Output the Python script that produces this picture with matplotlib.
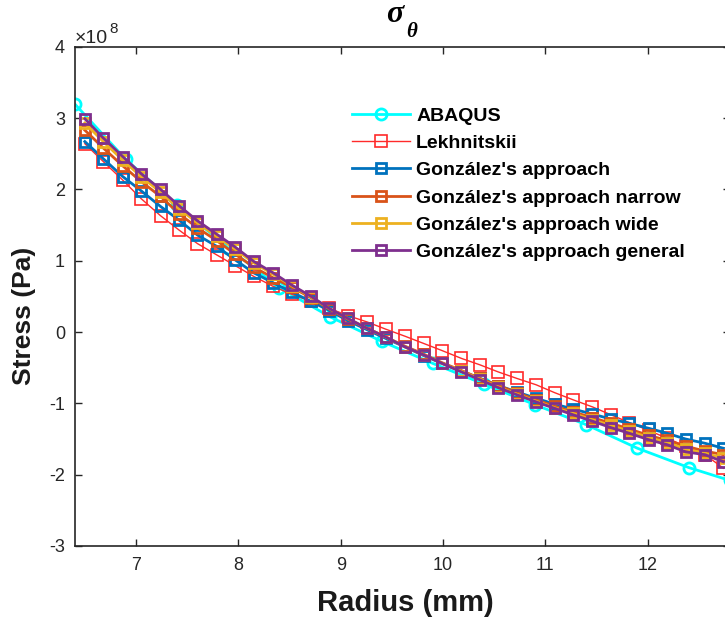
import numpy as np
import matplotlib
matplotlib.use("Agg")
import matplotlib.pyplot as plt

plt.rcParams['font.family'] = ['Liberation Sans', 'DejaVu Sans']

# Radial positions (mm)
r_abaqus = [6.4, 6.9, 7.4, 7.9, 8.4, 8.9, 9.4, 9.9, 10.4, 10.9, 11.4, 11.9, 12.4, 12.8]
r_model = [6.50, 6.68, 6.87, 7.05, 7.24, 7.42, 7.60, 7.79, 7.97, 8.15, 8.34,
           8.52, 8.71, 8.89, 9.07, 9.26, 9.44, 9.63, 9.81, 9.99, 10.18, 10.36,
           10.54, 10.72, 10.91, 11.09, 11.27, 11.46, 11.64, 11.82, 12.01, 12.19,
           12.37, 12.56, 12.74]

# Hoop stress, units of 1e8 Pa
abaqus = [3.20, 2.42, 1.78, 1.18, 0.62, 0.21, -0.13, -0.44, -0.73, -1.02,
          -1.30, -1.63, -1.90, -2.08]
lekhnitskii = [2.64, 2.39, 2.13, 1.87, 1.63, 1.43, 1.24, 1.08, 0.93, 0.78, 0.64,
               0.53, 0.43, 0.33, 0.23, 0.14, 0.04, -0.06, -0.16, -0.26, -0.37,
               -0.46, -0.56, -0.65, -0.74, -0.85, -0.95, -1.05, -1.16, -1.27,
               -1.38, -1.49, -1.60, -1.72, -1.91]
gonzalez = [2.67, 2.43, 2.18, 1.98, 1.76, 1.57, 1.36, 1.20, 1.01, 0.83, 0.69,
            0.56, 0.43, 0.30, 0.16, 0.03, -0.09, -0.21, -0.33, -0.44, -0.55,
            -0.65, -0.75, -0.84, -0.93, -1.01, -1.08, -1.15, -1.22, -1.28,
            -1.35, -1.42, -1.50, -1.56, -1.63]
gonzalez_narrow = [2.83, 2.58, 2.33, 2.11, 1.90, 1.66, 1.46, 1.28, 1.09, 0.91,
                   0.76, 0.63, 0.48, 0.32, 0.18, 0.05, -0.07, -0.20, -0.31,
                   -0.43, -0.54, -0.65, -0.75, -0.85, -0.95, -1.04, -1.12,
                   -1.20, -1.28, -1.36, -1.45, -1.52, -1.60, -1.67, -1.72]
gonzalez_wide = [2.93, 2.67, 2.41, 2.18, 1.96, 1.73, 1.53, 1.34, 1.16, 0.97,
                 0.81, 0.65, 0.49, 0.33, 0.19, 0.05, -0.07, -0.21, -0.32,
                 -0.44, -0.55, -0.66, -0.77, -0.87, -0.97, -1.06, -1.14,
                 -1.23, -1.31, -1.39, -1.48, -1.55, -1.64, -1.70, -1.77]
gonzalez_general = [2.99, 2.72, 2.46, 2.22, 2.00, 1.77, 1.56, 1.37, 1.19, 0.99,
                    0.83, 0.66, 0.50, 0.33, 0.19, 0.05, -0.07, -0.21, -0.32,
                    -0.44, -0.56, -0.67, -0.78, -0.88, -0.98, -1.07, -1.16,
                    -1.25, -1.34, -1.42, -1.51, -1.58, -1.68, -1.72, -1.82]

labels = ["ABAQUS", "Lekhnitskii", "González's approach",
          "González's approach narrow", "González's approach wide",
          "González's approach general"]

x_ticks = [7, 8, 9, 10, 11, 12]
y_ticks = [-3, -2, -1, 0, 1, 2, 3, 4]

W, H = 725, 621
fig = plt.figure(figsize=(W / 100, H / 100), dpi=100)
ax = fig.add_axes([74.6 / W, 75 / H, 655 / W, 499.3 / H])

ax.plot(r_abaqus, abaqus, '-o', color='#00FFFF', lw=2, ms=8,
        mfc='none', mew=2, label=labels[0])
ax.plot(r_model, lekhnitskii, '-s', color='#FF2A2A', lw=1, ms=8,
        mfc='none', mew=1.2, label=labels[1])
series = [gonzalez, gonzalez_narrow, gonzalez_wide, gonzalez_general]
colors = ['#0072BD', '#D95319', '#EDB120', '#7E2F8E']
for vals, col, lab in zip(series, colors, labels[2:]):
    ax.plot(r_model, vals, '-s', color=col, lw=2, ms=7.5, mfc='none',
            mew=2, label=lab)

ax.set_xlim(6.4, 12.8)
ax.set_ylim(-3, 4)
ax.set_xticks(x_ticks)
ax.set_yticks(y_ticks)
ax.set_xticklabels([str(t) for t in x_ticks])
ax.set_yticklabels([str(t) for t in y_ticks])

for sp in ax.spines.values():
    sp.set_color('#262626')
    sp.set_linewidth(1.2)
ax.tick_params(direction='in', length=5, width=1, colors='#262626',
               labelsize=13, top=True, right=True)
ax.tick_params(axis='x', pad=8)
ax.tick_params(axis='y', pad=7)

# exponent marker for the stress axis
fig.text(75 / W, (H - 43) / H, '×10', fontsize=14, color='#262626',
         ha='left', va='baseline')
fig.text(109 / W, (H - 33) / H, '8', fontsize=11, color='#262626',
         ha='left', va='baseline')

# title: sigma with theta subscript
fig.text(386 / W, (H - 22) / H, 'σ', fontsize=23, family='Liberation Serif',
         style='italic', weight='bold', ha='left', va='baseline')
fig.text(406 / W, (H - 37) / H, 'θ', fontsize=15, family='Liberation Serif',
         style='italic', weight='bold', ha='left', va='baseline')

ax.set_xlabel('Radius (mm)', fontsize=21, fontweight='bold', color='#1a1a1a')
ax.xaxis.set_label_coords((405 - 74.6) / 655, (546 - 617) / 499.3)
ax.xaxis.label.set_va('bottom')
ax.set_ylabel('Stress (Pa)', fontsize=19, fontweight='bold', color='#1a1a1a')
ax.yaxis.set_label_coords((12 - 74.6) / 655, (546 - 316) / 499.3)
ax.yaxis.label.set_va('top')

leg = ax.legend(loc='upper left', bbox_to_anchor=((352 - 74.6) / 655, (546 - 107) / 499.3),
                frameon=False, handlelength=3.0, handletextpad=0.3,
                labelspacing=0.5, borderaxespad=0, borderpad=0,
                prop={'family': 'Liberation Sans', 'weight': 'bold',
                      'size': 14})

fig.savefig('out.png', dpi=100)
